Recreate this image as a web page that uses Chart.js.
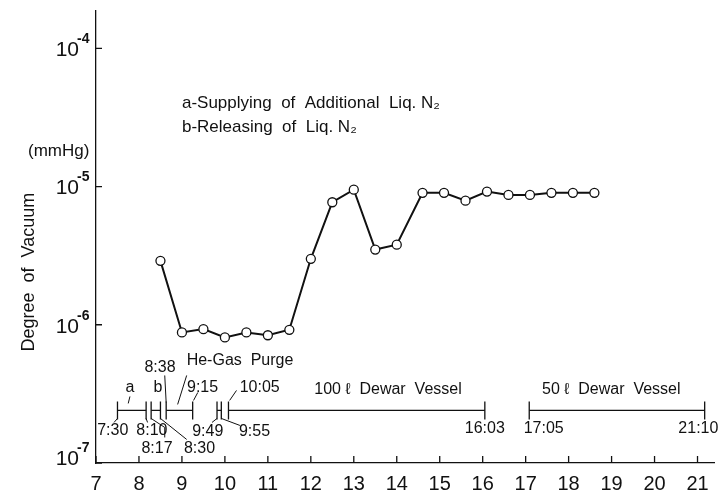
<!DOCTYPE html>
<html lang="en">
<head>
<meta charset="UTF-8" />
<script src="https://cdn.jsdelivr.net/npm/chart.js@4.4.1/dist/chart.umd.min.js"></script>
<title>Degree of Vacuum</title>
<style>
  html, body { margin: 0; padding: 0; background: #fff; }
  #wrap { width: 725px; height: 491px; }
</style>
</head>
<body>
<div id="wrap"><canvas id="chart" width="725" height="491"></canvas></div>
<script>
// readings: time of day (h) and pressure (mmHg)
const hours  = [8.5, 9, 9.5, 10, 10.5, 11, 11.5, 12, 12.5, 13, 13.5, 14,
                14.6, 15.1, 15.6, 16.1, 16.6, 17.1, 17.6, 18.1, 18.6];
const vacuum = [2.9e-6, 8.8e-7, 9.3e-7, 8.1e-7, 8.8e-7, 8.4e-7, 9.2e-7, 3.0e-6, 7.7e-6, 9.5e-6, 3.5e-6, 3.8e-6,
                9.0e-6, 9.0e-6, 7.9e-6, 9.2e-6, 8.7e-6, 8.7e-6, 9.0e-6, 9.0e-6, 9.0e-6];

const xTicks = [7, 8, 9, 10, 11, 12, 13, 14, 15, 16, 17, 18, 19, 20, 21];
const yTicks = [1e-7, 1e-6, 1e-5, 1e-4];
const yTickExp = ['-7', '-6', '-5', '-4'];

// operating periods shown under the curve
const periodStart = ['7:30', '8:17', '8:38', '9:49', '10:05', '17:05'];
const periodEnd   = ['8:10', '8:30', '9:15', '9:55', '16:03', '21:10'];

const barLevel = 2.4e-7;

function toHours(t) {
   const [h, m] = t.split(':').map(Number);
   return h + m / 60;
}

const FONT = '"Liberation Sans", Arial, sans-serif';

// text around the period bars: [text, hour, dy from bar, align]
const barLabels = [
   ['a', 7.79, -23, 'center'],
   ['b', 8.44, -23, 'center'],
   ['8:38', 8.49, -43, 'center'],
   ['He-Gas  Purge', 9.11, -50, 'left'],
   ['9:15', 9.48, -23, 'center'],
   ['10:05', 10.81, -23, 'center'],
   ['100 ℓ  Dewar  Vessel', 12.08, -21, 'left'],
   ['50 ℓ  Dewar  Vessel', 17.38, -21, 'left'],
   ['7:30', 7.39, 20, 'center'],
   ['8:10', 8.3, 20, 'center'],
   ['9:49', 9.6, 21, 'center'],
   ['9:55', 10.69, 21, 'center'],
   ['16:03', 16.05, 18, 'center'],
   ['17:05', 17.42, 18, 'center'],
   ['21:10', 21.02, 18, 'center'],
   ['8:17', 8.42, 38, 'center'],
   ['8:30', 9.41, 38, 'center']
];

// leader lines: list of [hour, dy] points
const leaders = [
   [[7.75, -7], [7.79, -14]],
   [[8.633, -8], [8.6, -35]],
   [[9.11, -35], [8.9, -6]],
   [[9.37, -18], [9.27, -10]],
   [[10.27, -20], [10.11, -10]],
   [[7.5, 8], [7.42, 12]],
   [[8.167, 8], [8.2, 12]],
   [[8.283, 8], [8.6, 17], [8.6, 27]],
   [[8.5, 8], [9.11, 29]],
   [[9.817, 8], [9.7, 12]],
   [[9.917, 8], [10.35, 15]]
];

const decorPlugin = {
   id: 'decor',
   afterDraw(chart) {
      const ctx = chart.ctx;
      const x = chart.scales.x;
      const y = chart.scales.y;
      const area = chart.chartArea;
      ctx.save();
      ctx.strokeStyle = '#111';
      ctx.fillStyle = '#111';
      ctx.lineWidth = 1.3;

      // inner tick marks
      ctx.beginPath();
      xTicks.forEach(v => {
         const px = x.getPixelForValue(v);
         ctx.moveTo(px, area.bottom);
         ctx.lineTo(px, area.bottom - 7);
      });
      yTicks.forEach(v => {
         const py = y.getPixelForValue(v);
         ctx.moveTo(area.left, py);
         ctx.lineTo(area.left + 6, py);
      });
      ctx.stroke();

      // y tick labels: 10 with raised exponent
      ctx.textBaseline = 'middle';
      yTicks.forEach((v, i) => {
         const py = y.getPixelForValue(v) + (i === 0 ? -6 : 0);
         ctx.font = '21px ' + FONT;
         ctx.textAlign = 'right';
         ctx.fillText('10', 79, py + 2);
         ctx.font = 'bold 14px ' + FONT;
         ctx.textAlign = 'left';
         ctx.fillText(yTickExp[i], 77, py - 9);
      });

      // axis title
      ctx.font = '18px ' + FONT;
      ctx.textAlign = 'center';
      ctx.save();
      ctx.translate(29, y.getPixelForValue(2.4e-6));
      ctx.rotate(-Math.PI / 2);
      ctx.fillText('Degree  of  Vacuum', 0, 0);
      ctx.restore();
      ctx.textAlign = 'left';
      ctx.font = '17px ' + FONT;
      ctx.fillText('(mmHg)', 28, y.getPixelForValue(1.8e-5));

      // key
      ctx.fillText('a-Supplying  of  Additional  Liq. N₂', x.getPixelForValue(9.0), y.getPixelForValue(4.0e-5));
      ctx.fillText('b-Releasing  of  Liq. N₂', x.getPixelForValue(9.0), y.getPixelForValue(2.7e-5));

      // period labels
      const barY = y.getPixelForValue(barLevel);
      ctx.font = '16px ' + FONT;
      barLabels.forEach(([t, h, dy, al]) => {
         ctx.textAlign = al;
         ctx.fillText(t, x.getPixelForValue(h), barY + dy);
      });
      ctx.lineWidth = 1;
      leaders.forEach(pts => {
         ctx.beginPath();
         pts.forEach(([h, dy], i) => {
            const px = x.getPixelForValue(h);
            if (i === 0) ctx.moveTo(px, barY + dy);
            else ctx.lineTo(px, barY + dy);
         });
         ctx.stroke();
      });
      ctx.restore();
   }
};

const periodSets = periodStart.map((s, i) => ({
   data: [{ x: toHours(s), y: barLevel }, { x: toHours(periodEnd[i]), y: barLevel }],
   borderColor: '#111',
   borderWidth: 1.3,
   pointStyle: 'line',
   rotation: 90,
   pointRadius: 9,
   pointBorderWidth: 1.3,
   pointBorderColor: '#111'
}));

const ctx = document.getElementById('chart').getContext('2d');
const chart = new Chart(ctx, {
   type: 'line',
   data: {
      datasets: [
         {
            data: hours.map((h, i) => ({ x: h, y: vacuum[i] })),
            borderColor: '#111',
            borderWidth: 2,
            pointRadius: 4.5,
            pointBorderWidth: 1.3,
            pointBorderColor: '#111',
            pointBackgroundColor: '#fff',
            tension: 0
         },
         ...periodSets
      ]
   },
   options: {
      responsive: false,
      animation: false,
      layout: { padding: { top: 10, right: 9, left: 0, bottom: 0 } },
      plugins: { legend: { display: false }, tooltip: { enabled: false } },
      scales: {
         x: {
            type: 'linear',
            min: 7,
            max: 21.4,
            afterBuildTicks: s => { s.ticks = xTicks.map(v => ({ value: v })); },
            afterFit: s => { s.height = 28; s.paddingLeft = 0; s.paddingRight = 0; },
            grid: { display: false },
            border: { display: true, color: '#111', width: 1.3 },
            ticks: {
               color: '#111',
               padding: 1,
               maxRotation: 0,
               font: { family: FONT, size: 20 },
               callback: v => String(v)
            }
         },
         y: {
            type: 'logarithmic',
            min: 1e-7,
            max: 1.884e-4,
            afterBuildTicks: s => { s.ticks = yTicks.map(v => ({ value: v })); },
            afterFit: s => { s.width = 96; s.paddingTop = 0; s.paddingBottom = 0; },
            grid: { display: false },
            border: { display: true, color: '#111', width: 1.3 },
            ticks: { display: false }
         }
      }
   },
   plugins: [decorPlugin]
});
</script>
</body>
</html>
